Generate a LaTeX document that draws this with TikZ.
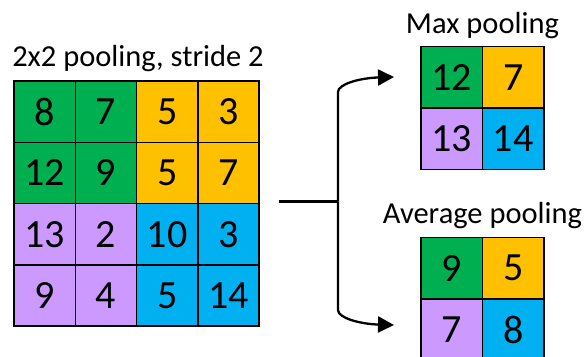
\documentclass[tikz,border=0pt]{standalone}
\usepackage{fontspec}
\setmainfont{Carlito}
\usetikzlibrary{arrows.meta}
\definecolor{poolgreen}{HTML}{00B050}
\definecolor{poolorange}{HTML}{FFC000}
\definecolor{poolpurple}{HTML}{CC99FF}
\definecolor{poolblue}{HTML}{00B0F0}
\begin{document}
\begin{tikzpicture}[x=1pt,y=-1pt,
  cell/.style={draw=black, line width=1.6pt, minimum size=61.3pt, inner sep=0pt,
    outer sep=0pt, anchor=north west, font=\fontsize{40}{42}\selectfont},
  smallcell/.style={cell, minimum size=61.5pt},
  caption/.style={anchor=base, inner sep=0pt, font=\fontsize{30.5}{33}\selectfont},
  link/.style={line width=2.3pt},
  tip/.style={-{Triangle[length=16pt,width=16pt]}}]
\useasboundingbox (0,0) rectangle (585,356);
\clip (0,0) rectangle (585,356);

% input feature map
\node[caption] (title) at (138,66.5) {2x2 pooling, stride 2};
\foreach \r/\c/\v/\col in {
  0/0/8/poolgreen, 0/1/7/poolgreen, 0/2/5/poolorange, 0/3/3/poolorange,
  1/0/12/poolgreen, 1/1/9/poolgreen, 1/2/5/poolorange, 1/3/7/poolorange,
  2/0/13/poolpurple, 2/1/2/poolpurple, 2/2/10/poolblue, 2/3/3/poolblue,
  3/0/9/poolpurple, 3/1/4/poolpurple, 3/2/5/poolblue, 3/3/14/poolblue}
  \node[cell, fill=\col] (in-\r-\c) at (14+61.3*\c, 81+61.3*\r) {\v};

% max pooling result
\node[caption] (maxlabel) at (482.5,33) {Max pooling};
\foreach \r/\c/\v/\col in {
  0/0/12/poolgreen, 0/1/7/poolorange, 1/0/13/poolpurple, 1/1/14/poolblue}
  \node[smallcell, fill=\col] (max-\r-\c) at (421+61.5*\c, 46.5+61.5*\r) {\v};

% average pooling result
\node[caption] (avglabel) at (482.5,223) {Average pooling};
\foreach \r/\c/\v/\col in {
  0/0/9/poolgreen, 0/1/5/poolorange, 1/0/7/poolpurple, 1/1/8/poolblue}
  \node[smallcell, fill=\col] (avg-\r-\c) at (421+61.5*\c, 237.5+61.5*\r) {\v};

% branching connector
\coordinate (start) at (279,201.5);
\coordinate (split) at (338,201.5);
\coordinate (upper) at (338,92);
\coordinate (lower) at (338,310);
\coordinate (maxin) at (394,77);
\coordinate (avgin) at (394,325);
\draw[link] (start) -- (split);
\draw[link, tip] (split) -- (upper) .. controls (338,84) and (360,78) .. (maxin);
\draw[link, tip] (split) -- (lower) .. controls (338,318) and (360,324) .. (avgin);
\end{tikzpicture}
\end{document}
